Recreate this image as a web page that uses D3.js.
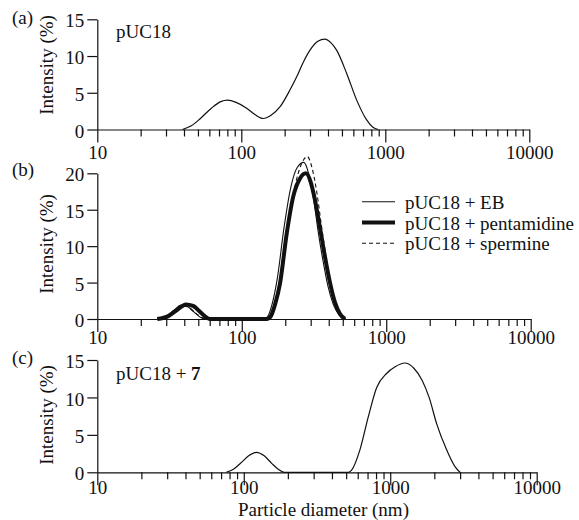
<!DOCTYPE html>
<html>
<head>
<meta charset="utf-8">
<script src="https://cdn.jsdelivr.net/npm/d3@7"></script>
<style>
  body { margin: 0; background: #fff; }
  svg text { font-family: "Liberation Serif", "DejaVu Serif", "Noto Serif", serif; }
</style>
</head>
<body>
<svg id="chart" width="579" height="520"></svg>
<script>
// --- data: [particle diameter (nm), intensity (%)] ---
const xMajorTicks = [10, 100, 1000, 10000];
const yTicksA = [0, 5, 10, 15];
const yTicksB = [0, 5, 10, 15, 20];
const yTicksC = [0, 5, 10, 15];

const pUC18 = [[39,0],[45,0.5],[52,1.5],[62,2.9],[72,3.8],[80,4.0],[92,3.7],[109,2.9],[125,2.0],
  [142,1.5],[160,1.9],[186,3.1],[218,5.4],[243,7.2],[270,9.2],[300,10.8],[340,12.0],[381,12.3],
  [420,11.8],[459,10.8],[540,7.6],[633,4.0],[742,1.3],[820,0.3],[893,0]];

const pUC18_EB = [[26,0],[30,0.4],[34,1.2],[38,1.9],[42,1.7],[47,0.9],[52,0.2],[56,0],[144,0],
  [152,0.4],[163,2.2],[176,5.5],[196,12.5],[217,17.8],[242,20.8],[269,21.5],[290,20],[314,16.5],
  [338,12],[365,8],[395,4.5],[430,2],[470,0.6],[518,0]];

const pUC18_pentamidine = [[26,0],[31,0.4],[36,1.3],[41,2.0],[46,1.8],[52,0.9],[57,0.2],[60,0],[150,0],
  [158,0.3],[170,2],[184,4.9],[205,11.8],[227,16.8],[253,19.3],[278,20],[300,18.8],[320,16.5],
  [348,12.5],[377,8.5],[408,5],[443,2.2],[478,0.7],[518,0]];

const pUC18_spermine = [[27,0],[31,0.4],[35,1.2],[39,1.8],[43,1.6],[48,0.8],[53,0.2],[57,0],[152,0],
  [160,0.3],[172,2],[186,5],[207,12],[230,17.6],[258,21.2],[284,22.3],[306,20.8],[330,17.5],
  [355,13],[383,8.5],[415,4.2],[450,1.6],[490,0.4],[525,0]];

const pUC18_7 = [[76,0],[85,0.4],[95,1.2],[108,2.2],[122,2.67],[138,2.2],[155,1.2],[172,0.4],[189,0],
  [517,0],[545,0.3],[621,3.0],[708,7.4],[807,11.3],[944,13.2],[1080,14.1],[1259,14.6],[1450,13.9],
  [1650,12.3],[1850,9.9],[2073,6.5],[2427,3],[2767,0.75],[2993,0]];

const legendLabels = ['pUC18 + EB', 'pUC18 + pentamidine', 'pUC18 + spermine'];

const svg = d3.select('#chart');
const ink = '#111';
const serif = '"Liberation Serif", "DejaVu Serif", "Noto Serif", serif';

function label(sel) {
  return sel.attr('font-family', serif).attr('font-size', 19).attr('fill', ink);
}

function drawPanel(p) {
  const x = d3.scaleLog().domain([10, 10000]).range([p.left, p.right]);
  const y = d3.scaleLinear().domain([0, p.yMax]).range([p.bottom, p.top]);
  const g = svg.append('g');

  // minor ticks
  const minor = x.ticks().filter(v => !xMajorTicks.includes(v));
  g.append('g')
    .attr('transform', `translate(0,${p.bottom})`)
    .call(d3.axisBottom(x).tickValues(minor).tickSize(7).tickSizeOuter(0).tickFormat(''))
    .call(a => a.select('.domain').remove());

  // major ticks + labels
  const xa = g.append('g')
    .attr('transform', `translate(0,${p.bottom})`)
    .call(d3.axisBottom(x).tickValues(xMajorTicks).tickSize(13).tickSizeOuter(0)
      .tickPadding(p.labelPad).tickFormat(d3.format('d')));
  xa.attr('font-family', serif);
  label(xa.selectAll('text'));

  const ya = g.append('g')
    .attr('transform', `translate(${p.left},0)`)
    .call(d3.axisLeft(y).tickValues(p.yTicks).tickSize(10).tickSizeOuter(0).tickPadding(3));
  ya.attr('font-family', serif);
  label(ya.selectAll('text')).attr('dy', '0.4em');

  g.selectAll('.domain, .tick line').attr('stroke', ink).attr('stroke-width', 1.2);

  // y title
  label(g.append('text'))
    .attr('transform', `translate(53,${p.titleY}) rotate(-90)`)
    .attr('text-anchor', 'middle')
    .text('Intensity (%)');

  // panel tag
  label(g.append('text')).attr('x', 12).attr('y', p.tagY).text(p.tag);

  const line = d3.line().x(d => x(d[0])).y(d => y(d[1])).curve(d3.curveMonotoneX);
  p.series.forEach(s => {
    g.append('path').datum(s.data)
      .attr('d', line).attr('fill', 'none').attr('stroke', ink)
      .attr('stroke-width', s.width).attr('stroke-dasharray', s.dash || null)
      .attr('stroke-linejoin', 'round');
  });
  return { g, x, y };
}

// (a)
const pa = drawPanel({ left: 97.3, right: 529.3, top: 19.3, bottom: 129.5, yMax: 15, yTicks: yTicksA,
  labelPad: 3, titleY: 65, tag: '(a)', tagY: 24,
  series: [{ data: pUC18, width: 1.2 }] });
label(pa.g.append('text')).attr('x', 116).attr('y', 38).text('pUC18');

// (b)
const pb = drawPanel({ left: 97.3, right: 530.7, top: 173.3, bottom: 319, yMax: 20, yTicks: yTicksB,
  labelPad: -1.3, titleY: 244, tag: '(b)', tagY: 176,
  series: [
    { data: pUC18_EB, width: 1.1 },
    { data: pUC18_spermine, width: 1.1, dash: '4,3' },
    { data: pUC18_pentamidine, width: 4 }
  ] });
const legendStyles = [{ width: 1.1 }, { width: 4 }, { width: 1.1, dash: '4,3' }];
const lg = pb.g.append('g');
legendLabels.forEach((t, i) => {
  const yy = 201.7 + i * 20.8;
  lg.append('line').attr('x1', 362).attr('x2', 395).attr('y1', yy).attr('y2', yy)
    .attr('stroke', ink).attr('stroke-width', legendStyles[i].width)
    .attr('stroke-dasharray', legendStyles[i].dash || null);
  label(lg.append('text')).attr('x', 405).attr('y', yy + 7).text(t);
});

// (c)
const pc = drawPanel({ left: 97.3, right: 536.7, top: 360, bottom: 472.3, yMax: 15, yTicks: yTicksC,
  labelPad: -4.3, titleY: 415, tag: '(c)', tagY: 364,
  series: [{ data: pUC18_7, width: 1.2 }] });
const ct = label(pc.g.append('text')).attr('x', 116).attr('y', 380);
ct.append('tspan').text('pUC18 + ');
ct.append('tspan').attr('font-weight', 'bold').text('7');

label(svg.append('text')).attr('x', 323.5).attr('y', 516).attr('text-anchor', 'middle')
  .text('Particle diameter (nm)');
</script>
</body>
</html>
